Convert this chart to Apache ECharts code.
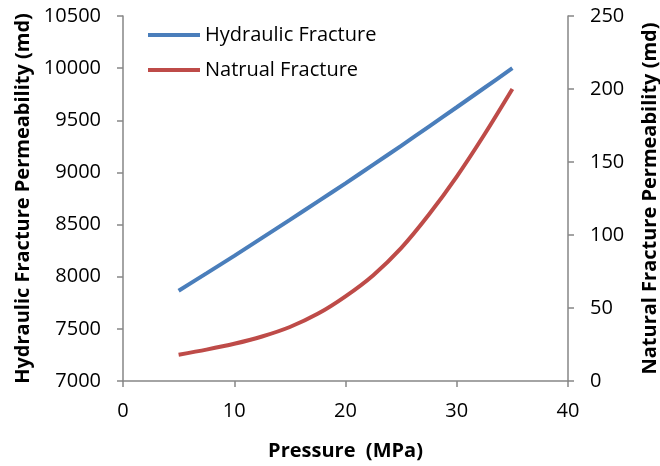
<!DOCTYPE html>
<html>
<head>
<meta charset="utf-8">
<script src="https://cdn.jsdelivr.net/npm/echarts@6/dist/echarts.min.js"></script>
<style>
html,body{margin:0;padding:0;background:#fff;}
#chart{width:660px;height:466px;}
</style>
</head>
<body>
<div id="chart"></div>
<script>
// Data
var pressure = [5, 7.5, 10, 12.5, 15, 17.5, 20, 22.5, 25, 27.5, 30, 32.5, 35];
var hydraulicPerm = [7865, 8032, 8200, 8372, 8545, 8720, 8895, 9075, 9255, 9440, 9625, 9812, 10000];
var naturalPerm = [18, 21.5, 25.5, 30.5, 37, 46, 58, 72.5, 91, 114, 140, 169, 200];
var seriesNames = ['Hydraulic Fracture', 'Natrual Fracture'];
var xTitle = 'Pressure  (MPa)';
var yLeftTitle = 'Hydraulic Fracture Permeability (md)';
var yRightTitle = 'Natural Fracture Permeability (md)';

var FONT = 'Open Sans';
var AXIS_COLOR = '#868686';
var BLUE = '#4A7EBB';
var RED = '#BE4B48';

function pairs(xs, ys) { return xs.map(function (x, i) { return [x, ys[i]]; }); }
function plain(v) { return String(v); }

var chart = echarts.init(document.getElementById('chart'), null, {renderer: 'canvas'});

var axisCommon = {
  axisLine: {show: true, lineStyle: {color: AXIS_COLOR, width: 1.5}},
  axisTick: {show: true, length: 6, lineStyle: {color: AXIS_COLOR, width: 1.5}},
  splitLine: {show: false},
  axisLabel: {color: '#000', fontFamily: FONT, fontSize: 20, formatter: plain},
  nameTextStyle: {color: '#000', fontFamily: FONT, fontSize: 20, fontWeight: 'bold'}
};

chart.setOption({
  animation: false,
  backgroundColor: '#fff',
  grid: {left: 123, right: 92, top: 16, bottom: 85, containLabel: false, outerBoundsMode: 'none'},
  legend: {
    orient: 'vertical',
    left: 143, top: 20,
    icon: 'rect',
    itemWidth: 52, itemHeight: 4,
    itemGap: 15,
    textStyle: {color: '#000', fontFamily: FONT, fontSize: 20, padding: [0, 0, 0, 0]},
    data: seriesNames
  },
  xAxis: Object.assign({}, axisCommon, {
    type: 'value', min: 0, max: 40, interval: 10,
    name: xTitle, nameLocation: 'middle', nameGap: 60,
    axisLabel: Object.assign({}, axisCommon.axisLabel, {margin: 20})
  }),
  yAxis: [
    Object.assign({}, axisCommon, {
      type: 'value', min: 7000, max: 10500, interval: 500, position: 'left',
      name: yLeftTitle, nameLocation: 'middle', nameGap: 90,
      axisLabel: Object.assign({}, axisCommon.axisLabel, {margin: 22})
    }),
    Object.assign({}, axisCommon, {
      type: 'value', min: 0, max: 250, interval: 50, position: 'right',
      name: yRightTitle, nameLocation: 'middle', nameGap: 72, nameRotate: 90,
      axisLabel: Object.assign({}, axisCommon.axisLabel, {margin: 22})
    })
  ],
  series: [
    {
      name: seriesNames[0], type: 'line', yAxisIndex: 0, smooth: 0.3,
      symbol: 'none', showSymbol: false,
      lineStyle: {color: BLUE, width: 4}, itemStyle: {color: BLUE},
      data: pairs(pressure, hydraulicPerm)
    },
    {
      name: seriesNames[1], type: 'line', yAxisIndex: 1, smooth: 0.3,
      symbol: 'none', showSymbol: false,
      lineStyle: {color: RED, width: 4}, itemStyle: {color: RED},
      data: pairs(pressure, naturalPerm)
    }
  ]
});
</script>
</body>
</html>
